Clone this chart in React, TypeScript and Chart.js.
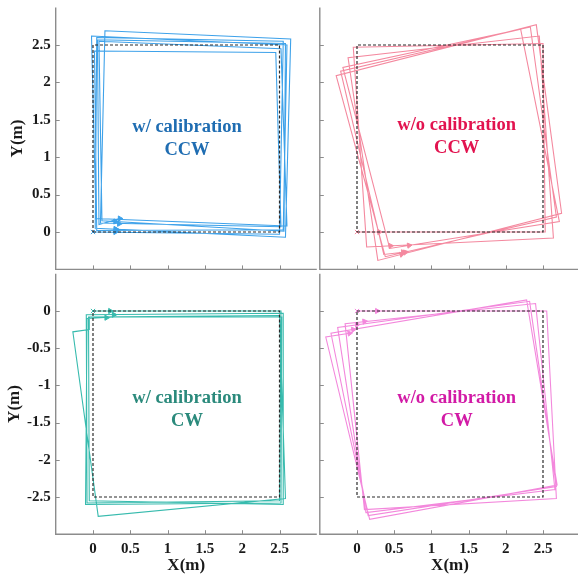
import React, { useEffect, useRef } from "react";
import { Chart, registerables } from "chart.js";

Chart.register(...registerables);

const SERIF = '"Liberation Serif", "Times New Roman", serif';
const AXIS_COLOR = "#8c8c8c";
const TEXT_COLOR = "#1a1a1a";

// ---- tick labels ----
const xTickValues = [0, 0.5, 1, 1.5, 2, 2.5];
const yTickValuesCCW = [0, 0.5, 1, 1.5, 2, 2.5];
const yTickValuesCW = [-2.5, -2, -1.5, -1, -0.5, 0];

// ---- reference (dashed) squares ----
const refCCWX = [0, 2.5, 2.5, 0, 0];
const refCCWY = [0, 0, 2.5, 2.5, 0];
const refCWX = [0, 2.5, 2.5, 0, 0];
const refCWY = [0, 0, -2.5, -2.5, 0];

// ---- w/ calibration, CCW (top-left) ----
const tlPathX = [0, 2.5, 2.55, 0.05, 0.03, 2.58, 2.65, 0.16, 0.1, 2.52, 2.45, 0.02, 0.05, 2.55, 2.6, -0.02, 0.04, 2.6, 2.52, 0.08, 0.12, 2.56, 2.58, 0.06, 0.08, 0.36];
const tlPathY = [0, -0.03, 2.55, 2.6, 0.05, -0.07, 2.58, 2.69, 0.12, 0.07, 2.4, 2.42, 0.02, 0.03, 2.5, 2.62, 0.18, 0.08, 2.45, 2.55, 0.15, 0.01, 2.52, 2.57, 0.1, 0.18];
const tlArrowX = [0.3, 0.3, 0.35, 0.32, 0.36, 0.3];
const tlArrowY = [0.0, 0.04, 0.11, 0.03, 0.18, 0.14];
const tlArrowRot = [90, 92, 91, 90, 90, 92];

// ---- w/o calibration, CCW (top-right) ----
const trPathX = [0, 2.53, 2.5, -0.05, 0.13, 2.64, 2.45, -0.12, 0.28, 2.75, 2.41, -0.28, 0.38, 2.68, 2.33, -0.19, 0.44, 2.72, 2.2, -0.22, 0.36, 0.62];
const trPathY = [0, 0.0, 2.52, 2.47, -0.2, -0.08, 2.62, 2.33, -0.38, 0.25, 2.77, 2.09, -0.33, 0.2, 2.74, 2.2, -0.22, 0.14, 2.71, 2.15, -0.3, -0.27];
const trArrowX = [0.3, 0.45, 0.6, 0.65, 0.7, 0.62];
const trArrowY = [0.0, -0.185, -0.3, -0.27, -0.18, -0.27];
const trArrowRot = [90, 87, 76, 77, 82, 85];

// ---- w/ calibration, CW (bottom-left) ----
const blPathX = [0, 2.52, 2.5, -0.08, -0.09, 2.55, 2.55, -0.05, -0.06, 2.5, 2.58, 0.07, -0.27, -0.05, -0.05, 2.53, 2.52, -0.1, -0.08, 0.28];
const blPathY = [0, 0.0, -2.55, -2.58, -0.05, -0.03, -2.6, -2.55, -0.08, -0.06, -2.52, -2.76, -0.28, -0.25, -0.08, -0.08, -2.58, -2.6, -0.1, -0.08];
const blArrowX = [0.23, 0.18, 0.28];
const blArrowY = [0.0, -0.09, -0.05];
const blArrowRot = [90, 90, 90];

// ---- w/o calibration, CW (bottom-right) ----
const brPathX = [0, 2.55, 2.68, 0.1, -0.16, 2.4, 2.66, 0.12, -0.26, 2.32, 2.68, 0.15, -0.35, 2.28, 2.69, 0.17, -0.42, -0.1];
const brPathY = [0, 0.0, -2.52, -2.67, -0.17, 0.1, -2.4, -2.71, -0.22, 0.13, -2.36, -2.75, -0.3, 0.15, -2.34, -2.8, -0.35, -0.3];
const brArrowX = [0.27, 0.1, 0.0, -0.05, -0.1];
const brArrowY = [0.0, -0.14, -0.185, -0.25, -0.3];
const brArrowRot = [90, 84, 84, 83, 82];

// ---- panel labels ----
const tlLabel = ["w/ calibration", "CCW"];
const trLabel = ["w/o calibration", "CCW"];
const blLabel = ["w/ calibration", "CW"];
const brLabel = ["w/o calibration", "CW"];

type PanelCfg = {
  left: number;
  top: number;
  width: number;
  height: number;
  yWidth: number;
  xHeight: number;
  padTop: number;
  padRight: number;
  yMin: number;
  yMax: number;
  yTicks: number[];
  showX: boolean;
  showY: boolean;
  yTitlePad: number;
  pathX: number[];
  pathY: number[];
  arrowX: number[];
  arrowY: number[];
  arrowRot: number[];
  refX: number[];
  refY: number[];
  color: string;
  textColor: string;
  label: string[];
  labelX: number;
  labelY: number;
};

const zip = (xs: number[], ys: number[]) => xs.map((x, i) => ({ x, y: ys[i] }));

const panels: PanelCfg[] = [
  {
    left: 0, top: 0, width: 318, height: 272,
    yWidth: 55.7, xHeight: 2.6, padTop: 7.6, padRight: 1.2,
    yMin: -0.5, yMax: 3, yTicks: yTickValuesCCW,
    showX: false, showY: true, yTitlePad: 9.5,
    pathX: tlPathX, pathY: tlPathY, arrowX: tlArrowX, arrowY: tlArrowY, arrowRot: tlArrowRot,
    refX: refCCWX, refY: refCCWY,
    color: "#3ea2ea", textColor: "#1f6db2", label: tlLabel, labelX: 1.26, labelY: 1.25,
  },
  {
    left: 318, top: 0, width: 264, height: 272,
    yWidth: 1.8, xHeight: 2.6, padTop: 7.6, padRight: 1.8,
    yMin: -0.5, yMax: 3, yTicks: yTickValuesCCW,
    showX: false, showY: false, yTitlePad: 0,
    pathX: trPathX, pathY: trPathY, arrowX: trArrowX, arrowY: trArrowY, arrowRot: trArrowRot,
    refX: refCCWX, refY: refCCWY,
    color: "#f4899f", textColor: "#e2134f", label: trLabel, labelX: 1.34, labelY: 1.27,
  },
  {
    left: 0, top: 272, width: 318, height: 302,
    yWidth: 55.7, xHeight: 39.8, padTop: 1.8, padRight: 1.2,
    yMin: -3, yMax: 0.5, yTicks: yTickValuesCW,
    showX: true, showY: true, yTitlePad: 6.5,
    pathX: blPathX, pathY: blPathY, arrowX: blArrowX, arrowY: blArrowY, arrowRot: blArrowRot,
    refX: refCWX, refY: refCWY,
    color: "#38bbae", textColor: "#2b8a7c", label: blLabel, labelX: 1.26, labelY: -1.33,
  },
  {
    left: 318, top: 272, width: 264, height: 302,
    yWidth: 1.8, xHeight: 39.8, padTop: 1.8, padRight: 1.8,
    yMin: -3, yMax: 0.5, yTicks: yTickValuesCW,
    showX: true, showY: false, yTitlePad: 0,
    pathX: brPathX, pathY: brPathY, arrowX: brArrowX, arrowY: brArrowY, arrowRot: brArrowRot,
    refX: refCWX, refY: refCWY,
    color: "#f388dc", textColor: "#d21aa6", label: brLabel, labelX: 1.34, labelY: -1.33,
  },
];

const clearPadding = (s: any) => {
  s.paddingTop = 0;
  s.paddingBottom = 0;
  s.paddingLeft = 0;
  s.paddingRight = 0;
};

function Panel({ cfg }: { cfg: PanelCfg }) {
  const ref = useRef<HTMLCanvasElement | null>(null);

  useEffect(() => {
    if (!ref.current) return;

    const decor = {
      id: "decor",
      afterDraw(chart: any) {
        const { ctx, chartArea } = chart;
        const { left, right, top, bottom } = chartArea;
        const xs = chart.scales.x;
        const ys = chart.scales.y;
        ctx.save();
        ctx.strokeStyle = AXIS_COLOR;
        ctx.lineWidth = 1.4;
        ctx.beginPath();
        ctx.moveTo(left, top);
        ctx.lineTo(left, bottom);
        ctx.lineTo(right, bottom);
        ctx.stroke();
        ctx.lineWidth = 1;
        ctx.beginPath();
        xTickValues.forEach((v) => {
          const p = Math.round(xs.getPixelForValue(v)) + 0.5;
          ctx.moveTo(p, bottom);
          ctx.lineTo(p, bottom - 4);
        });
        cfg.yTicks.forEach((v) => {
          const p = Math.round(ys.getPixelForValue(v)) + 0.5;
          ctx.moveTo(left, p);
          ctx.lineTo(left + 4, p);
        });
        ctx.stroke();

        const cx = xs.getPixelForValue(cfg.labelX);
        const cy = ys.getPixelForValue(cfg.labelY);
        ctx.fillStyle = cfg.textColor;
        ctx.font = `bold 18.5px ${SERIF}`;
        ctx.textAlign = "center";
        ctx.textBaseline = "middle";
        ctx.fillText(cfg.label[0], cx, cy - 11.5);
        ctx.fillText(cfg.label[1], cx, cy + 11.5);
        ctx.restore();
      },
    };

    const chart = new Chart(ref.current, {
      type: "scatter",
      data: {
        datasets: [
          {
            data: zip(cfg.refX, cfg.refY),
            showLine: true,
            borderColor: "#2a2a2a",
            borderWidth: 1.2,
            borderDash: [3, 2],
            pointRadius: 0,
            order: 0,
          } as any,
          {
            data: zip(cfg.pathX, cfg.pathY),
            showLine: true,
            borderColor: cfg.color,
            borderWidth: 1.1,
            pointRadius: 0,
            tension: 0,
            order: 1,
          } as any,
          {
            data: [{ x: cfg.pathX[0], y: cfg.pathY[0] }],
            showLine: false,
            pointStyle: "crossRot",
            pointRadius: 3,
            borderColor: cfg.color,
            borderWidth: 1,
            order: 1,
          } as any,
          {
            data: zip(cfg.arrowX, cfg.arrowY),
            showLine: false,
            pointStyle: "triangle",
            pointRadius: 3,
            rotation: cfg.arrowRot,
            backgroundColor: cfg.color,
            borderColor: cfg.color,
            borderWidth: 1,
            order: 1,
          } as any,
        ],
      },
      options: {
        animation: false,
        responsive: false,
        devicePixelRatio: 1,
        layout: {
          autoPadding: false,
          padding: { top: cfg.padTop, right: cfg.padRight, left: 0, bottom: 0 },
        },
        plugins: { legend: { display: false }, tooltip: { enabled: false } },
        scales: {
          x: {
            type: "linear",
            min: -0.5,
            max: 3,
            afterBuildTicks: (s: any) => {
              s.ticks = xTickValues.map((v) => ({ value: v }));
            },
            afterFit: (s: any) => {
              s.height = cfg.xHeight;
              clearPadding(s);
            },
            grid: { display: false, drawTicks: false },
            border: { display: false },
            ticks: {
              display: cfg.showX,
              autoSkip: false,
              maxRotation: 0,
              padding: 6,
              color: TEXT_COLOR,
              font: { family: SERIF, size: 15, weight: "bold" },
              callback: (v: any) => String(v),
            },
            title: {
              display: cfg.showX,
              text: "X(m)",
              color: TEXT_COLOR,
              font: { family: SERIF, size: 17, weight: "bold", lineHeight: 1 },
              padding: { top: 0, bottom: 0 },
            },
          },
          y: {
            type: "linear",
            min: cfg.yMin,
            max: cfg.yMax,
            afterBuildTicks: (s: any) => {
              s.ticks = cfg.yTicks.map((v) => ({ value: v }));
            },
            afterFit: (s: any) => {
              s.width = cfg.yWidth;
              clearPadding(s);
            },
            grid: { display: false, drawTicks: false },
            border: { display: false },
            ticks: {
              display: cfg.showY,
              autoSkip: false,
              padding: 5,
              color: TEXT_COLOR,
              font: { family: SERIF, size: 15, weight: "bold" },
              callback: (v: any) => String(v),
            },
            title: {
              display: cfg.showY,
              text: "Y(m)",
              color: TEXT_COLOR,
              font: { family: SERIF, size: 17, weight: "bold", lineHeight: 1 },
              padding: { top: cfg.yTitlePad, bottom: 0 },
            },
          },
        },
      } as any,
      plugins: [decor],
    });

    return () => chart.destroy();
  }, [cfg]);

  return (
    <canvas
      ref={ref}
      width={cfg.width}
      height={cfg.height}
      style={{
        position: "absolute",
        left: cfg.left,
        top: cfg.top,
        width: cfg.width,
        height: cfg.height,
      }}
    />
  );
}

export default function App() {
  return (
    <div
      style={{
        position: "absolute",
        left: 0,
        top: 0,
        width: 578,
        height: 574,
        overflow: "hidden",
        background: "#ffffff",
      }}
    >
      {panels.map((p, i) => (
        <Panel key={i} cfg={p} />
      ))}
    </div>
  );
}
